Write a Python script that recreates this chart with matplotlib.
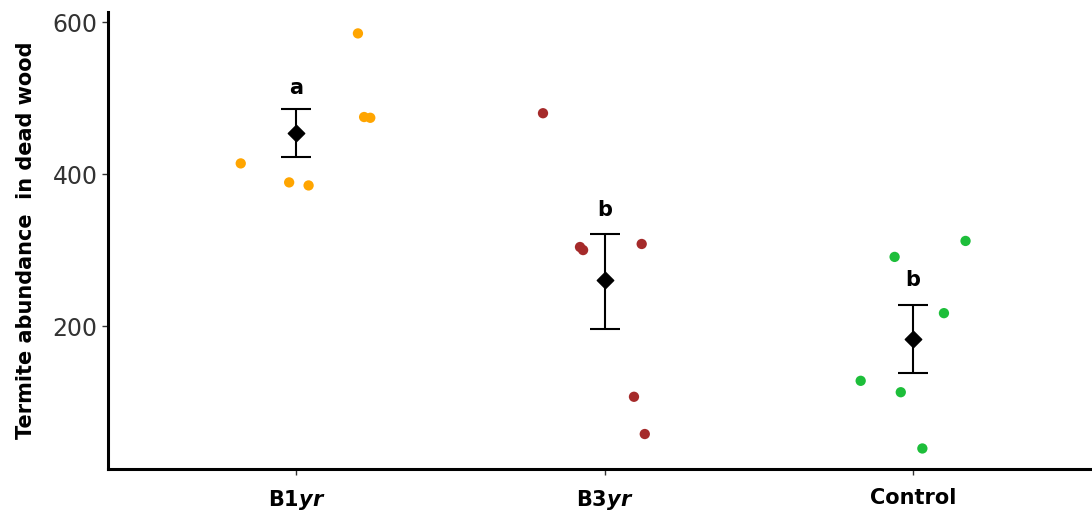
import numpy as np
import matplotlib
matplotlib.use("Agg")
import matplotlib.pyplot as plt

# categorias e dados
groups = ["B1yr", "B3yr", "Control"]
group_labels = [r"B1$\mathbfit{yr}$", r"B3$\mathbfit{yr}$", "Control"]
colors = ["#FFA500", "#A52A2A", "#1DBE3A"]

b1_x = [0.82, 0.977, 1.04, 1.2, 1.22, 1.24]
b1_y = [414, 389, 385, 585, 475, 474]
b3_x = [1.8, 1.92, 1.93, 2.12, 2.095, 2.13]
b3_y = [480, 304, 300, 308, 107, 58]
ct_x = [2.83, 2.94, 3.17, 3.10, 2.96, 3.03]
ct_y = [128, 291, 312, 217, 113, 39]

means = [454, 260, 183]
err_low = [422, 196, 138]
err_high = [485, 321, 228]
letters = ["a", "b", "b"]
letter_y = [513, 353, 260]

plt.rcParams["mathtext.fontset"] = "dejavusans"

fig = plt.figure(figsize=(10.92, 5.18), dpi=100)
ax = fig.add_axes([0.099, 0.0946, 0.901, 0.882])

pts_x = [b1_x, b3_x, ct_x]
pts_y = [b1_y, b3_y, ct_y]
for xs, ys, c in zip(pts_x, pts_y, colors):
    ax.scatter(xs, ys, s=55, color=c, edgecolors="none", zorder=2)

pos = np.arange(1, len(groups) + 1)
means_arr = np.array(means)
yerr = [means_arr - np.array(err_low), np.array(err_high) - means_arr]
ax.errorbar(pos, means, yerr=yerr, fmt="none", ecolor="black", elinewidth=1.5,
            capsize=11, capthick=1.5, zorder=3)
ax.scatter(pos, means, marker="D", s=70, color="black", zorder=4)

for p, l, ly in zip(pos, letters, letter_y):
    ax.text(p, ly, l, ha="center", va="center", fontsize=15, fontweight="bold")

ax.set_xlim(0.39, 3.58)
ax.set_ylim(12, 613)
ax.set_xticks(pos)
ax.set_xticklabels(group_labels, fontsize=15, fontweight="bold")
ax.set_yticks([200, 400, 600])
ax.tick_params(axis="y", labelsize=17, labelcolor="#333333", length=4, width=1, color="#333333")
ax.tick_params(axis="x", length=4, width=1, color="#333333", pad=10)
ax.set_ylabel("Termite abundance  in dead wood", fontsize=15, fontweight="bold", labelpad=12)

for s in ["top", "right"]:
    ax.spines[s].set_visible(False)
for s in ["left", "bottom"]:
    ax.spines[s].set_linewidth(2.2)

fig.savefig("out.png", dpi=100)
